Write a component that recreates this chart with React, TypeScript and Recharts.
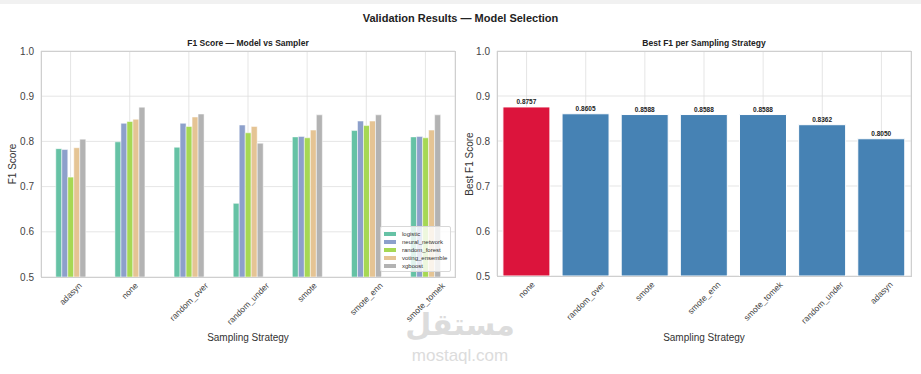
import React from "react";
import {
  BarChart,
  Bar,
  XAxis,
  YAxis,
  CartesianGrid,
  LabelList,
  Cell,
} from "recharts";

// left panel: F1 per model for each sampler
const samplers = ["adasyn", "none", "random_over", "random_under", "smote", "smote_enn", "smote_tomek"];
const logistic = [0.784, 0.799, 0.787, 0.663, 0.81, 0.824, 0.81];
const neuralNetwork = [0.782, 0.84, 0.84, 0.8362, 0.811, 0.845, 0.811];
const randomForest = [0.721, 0.844, 0.833, 0.819, 0.808, 0.835, 0.808];
const votingEnsemble = [0.786, 0.849, 0.854, 0.833, 0.825, 0.845, 0.825];
const xgboost = [0.805, 0.8757, 0.8605, 0.796, 0.8588, 0.8588, 0.8588];

const modelNames = ["logistic", "neural_network", "random_forest", "voting_ensemble", "xgboost"];
const modelValues = [logistic, neuralNetwork, randomForest, votingEnsemble, xgboost];
const modelColors = ["#66c2a5", "#8da0cb", "#a6d854", "#e5c494", "#b3b3b3"];

// right panel: best F1 per sampler, sorted
const bestOrder = ["none", "random_over", "smote", "smote_enn", "smote_tomek", "random_under", "adasyn"];
const bestF1 = [0.8757, 0.8605, 0.8588, 0.8588, 0.8588, 0.8362, 0.805];

const yTicks = [0.5, 0.6, 0.7, 0.8, 0.9, 1.0];

const FONT = '"Liberation Sans", Arial, sans-serif';

const leftData = samplers.map((s, i) => {
  const row: Record<string, string | number> = { name: s };
  modelNames.forEach((m, j) => (row[m] = modelValues[j][i]));
  return row;
});
const rightData = bestOrder.map((s, i) => ({ name: s, value: bestF1[i] }));

let ctx: CanvasRenderingContext2D | null = null;
function textWidth(t: string, size: number) {
  if (!ctx) ctx = document.createElement("canvas").getContext("2d");
  if (!ctx) return t.length * size * 0.52;
  ctx.font = `${size}px ${FONT}`;
  return ctx.measureText(t).width;
}

// rotated tick, centred on the tick like matplotlib rotation=45 ha=center
const RotTick = (props: any) => {
  const { x, y, payload } = props;
  const size = 8.5;
  const w = textWidth(payload.value, size);
  const half = ((w + size) * 0.7071) / 2;
  const cy = y + 4 + half;
  return (
    <text
      x={x}
      y={cy}
      textAnchor="middle"
      dominantBaseline="central"
      fontSize={size}
      fill="#444"
      fontFamily={FONT}
      transform={`rotate(-45, ${x}, ${cy})`}
    >
      {payload.value}
    </text>
  );
};

const abs = (s: React.CSSProperties): React.CSSProperties => ({ position: "absolute", ...s });

export default function App() {
  return (
    <div style={abs({ left: 0, top: 0, width: 921, height: 374, background: "#fff", fontFamily: FONT, overflow: "hidden" })}>
      <div style={abs({ left: 0, top: 0, width: 921, height: 4, background: "#f1f1f1" })} />
      <div style={abs({ left: 0, top: 12, width: 921, textAlign: "center", fontSize: 11, fontWeight: "bold", color: "#222" })}>
        Validation Results — Model Selection
      </div>

      {/* left panel */}
      <div style={abs({ left: 41, top: 38, width: 414, textAlign: "center", fontSize: 8.5, fontWeight: "bold", color: "#222" })}>
        F1 Score — Model vs Sampler
      </div>
      <div style={abs({ left: 0, top: 0 })}>
        <BarChart
          width={460}
          height={374}
          data={leftData}
          margin={{ top: 51, right: 5, bottom: 67, left: 0 }}
          barGap={0}
          barCategoryGap="25%"
        >
          <CartesianGrid stroke="#dedede" strokeWidth={0.8} />
          <XAxis dataKey="name" interval={0} height={30} tick={<RotTick />} tickLine={false} tickSize={0} tickMargin={0} axisLine={false} />
          <YAxis
            domain={[0.5, 1]}
            ticks={yTicks}
            allowDataOverflow
            width={41}
            tickLine={false}
            tickSize={0}
            tickMargin={7}
            axisLine={false}
            tickFormatter={(v: number) => v.toFixed(1)}
            tick={{ fontSize: 10, fill: "#444", fontFamily: FONT }}
          />
          {modelNames.map((m, j) => (
            <Bar key={m} dataKey={m} fill={modelColors[j]} stroke="#fff" strokeWidth={0.5} isAnimationActive={false} />
          ))}
        </BarChart>
      </div>
      <div style={abs({ left: 41, top: 51, width: 413, height: 225, border: "1px solid #cfcfcf", pointerEvents: "none" })} />
      <div style={abs({ left: 12, top: 164, fontSize: 10, color: "#333", transform: "translate(-50%, -50%) rotate(-90deg)", whiteSpace: "nowrap" })}>
        F1 Score
      </div>
      <div style={abs({ left: 41, top: 332, width: 414, textAlign: "center", fontSize: 10, color: "#333" })}>
        Sampling Strategy
      </div>
      <div
        style={abs({
          left: 380,
          top: 226,
          width: 71,
          height: 46,
          background: "rgba(255,255,255,0.8)",
          border: "1px solid #d8d8d8",
          borderRadius: 2,
          boxSizing: "border-box",
          padding: "3px 0 0 3px",
        })}
      >
        {modelNames.map((m, j) => (
          <div key={m} style={{ display: "flex", alignItems: "center", height: 8, fontSize: 6, color: "#333" }}>
            <span style={{ display: "inline-block", width: 12, height: 4, background: modelColors[j], marginRight: 6 }} />
            {m}
          </div>
        ))}
      </div>

      {/* right panel */}
      <div style={abs({ left: 497, top: 38, width: 414, textAlign: "center", fontSize: 8.5, fontWeight: "bold", color: "#222" })}>
        Best F1 per Sampling Strategy
      </div>
      <div style={abs({ left: 460, top: 0 })}>
        <BarChart
          width={461}
          height={374}
          data={rightData}
          margin={{ top: 51, right: 10, bottom: 68, left: 0 }}
          barCategoryGap="10%"
        >
          <CartesianGrid stroke="#dedede" strokeWidth={0.8} />
          <XAxis dataKey="name" interval={0} height={30} tick={<RotTick />} tickLine={false} tickSize={0} tickMargin={0} axisLine={false} />
          <YAxis
            domain={[0.5, 1]}
            ticks={yTicks}
            allowDataOverflow
            width={37}
            tickLine={false}
            tickSize={0}
            tickMargin={7}
            axisLine={false}
            tickFormatter={(v: number) => v.toFixed(1)}
            tick={{ fontSize: 10, fill: "#444", fontFamily: FONT }}
          />
          <Bar dataKey="value" stroke="#fff" strokeWidth={1} isAnimationActive={false}>
            {rightData.map((d, i) => (
              <Cell key={d.name} fill={i === 0 ? "#dc143c" : "#4682b4"} />
            ))}
            <LabelList
              dataKey="value"
              position="top"
              offset={3}
              formatter={(v: any) => Number(v).toFixed(4)}
              style={{ fontSize: 6.5, fontWeight: "bold", fill: "#222", fontFamily: FONT }}
            />
          </Bar>
        </BarChart>
      </div>
      <div style={abs({ left: 497, top: 51, width: 413, height: 224, border: "1px solid #cfcfcf", pointerEvents: "none" })} />
      <div style={abs({ left: 469, top: 164, fontSize: 10, color: "#333", transform: "translate(-50%, -50%) rotate(-90deg)", whiteSpace: "nowrap" })}>
        Best F1 Score
      </div>
      <div style={abs({ left: 497, top: 332, width: 414, textAlign: "center", fontSize: 10, color: "#333" })}>
        Sampling Strategy
      </div>

      {/* watermark */}
      <div style={abs({ left: 405, top: 309, width: 110, textAlign: "center", fontSize: 30, fontWeight: "bold", color: "#dcdcdc", lineHeight: "32px", fontFamily: '"DejaVu Sans", sans-serif' })}>
        مستقل
      </div>
      <div style={abs({ left: 405, top: 347, width: 110, textAlign: "center", fontSize: 17, lineHeight: "18px", color: "#dcdcdc" })}>
        mostaql.com
      </div>
    </div>
  );
}
